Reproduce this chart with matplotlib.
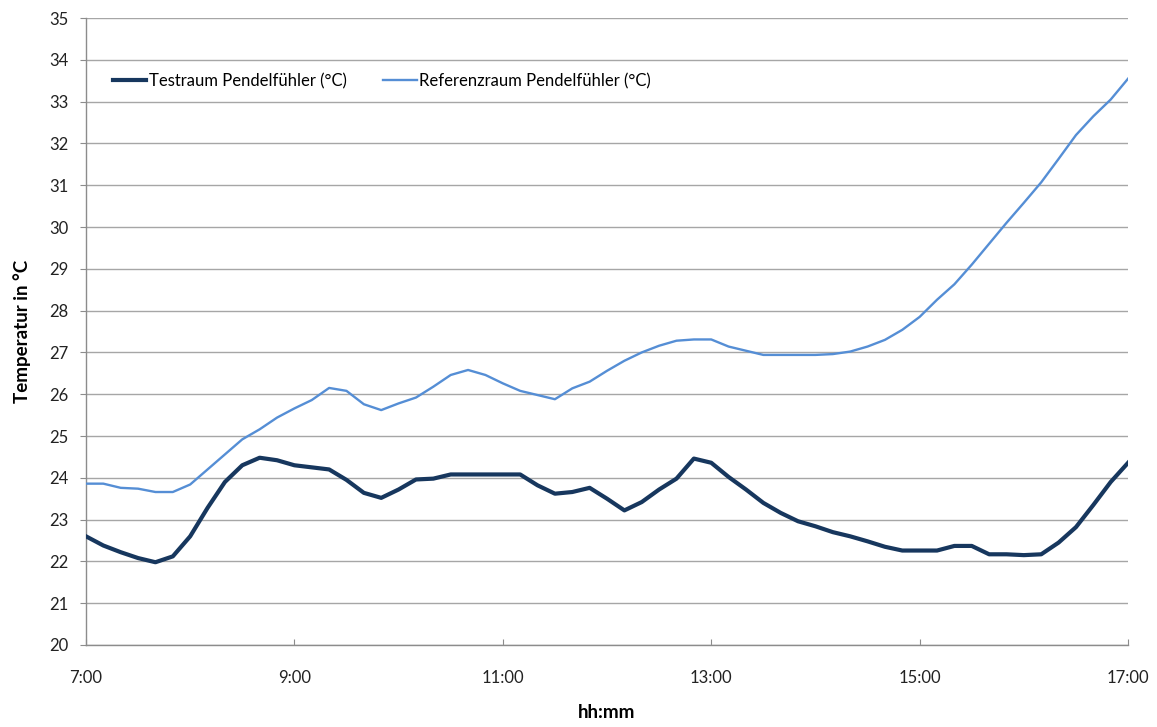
import numpy as np
import matplotlib
matplotlib.use('Agg')
import matplotlib.pyplot as plt
from matplotlib.ticker import FixedLocator, FuncFormatter

plt.rcParams['font.family'] = ['Lato', 'DejaVu Sans']

# sample grid: every 10 minutes from 7:00 to 17:00
minutes = np.arange(0, 601, 10)

# Testraum Pendelfühler (°C)
testraum = [22.60, 22.38, 22.22, 22.08, 21.98, 22.12, 22.60, 23.28, 23.90, 24.30,
            24.48, 24.42, 24.30, 24.25, 24.20, 23.95, 23.64, 23.52, 23.72, 23.96,
            23.98, 24.08, 24.08, 24.08, 24.08, 24.08, 23.82, 23.62, 23.66, 23.76,
            23.50, 23.22, 23.42, 23.72, 23.98, 24.46, 24.36, 24.02, 23.72, 23.40,
            23.16, 22.96, 22.84, 22.70, 22.60, 22.48, 22.35, 22.26, 22.26, 22.26,
            22.37, 22.37, 22.17, 22.17, 22.15, 22.17, 22.45, 22.82, 23.35, 23.90,
            24.36]

# Referenzraum Pendelfühler (°C)
referenz = [23.86, 23.86, 23.76, 23.74, 23.66, 23.66, 23.84, 24.20, 24.56, 24.92,
            25.16, 25.44, 25.66, 25.86, 26.15, 26.08, 25.76, 25.62, 25.78, 25.92,
            26.18, 26.46, 26.58, 26.46, 26.26, 26.08, 25.98, 25.88, 26.14, 26.30,
            26.56, 26.80, 27.00, 27.16, 27.28, 27.31, 27.31, 27.14, 27.04, 26.94,
            26.94, 26.94, 26.94, 26.96, 27.02, 27.14, 27.30, 27.54, 27.85, 28.26,
            28.63, 29.10, 29.60, 30.10, 30.58, 31.07, 31.63, 32.20, 32.65, 33.05,
            33.55]

hours = 7 + minutes / 60.0

fig = plt.figure(figsize=(11.57, 7.27), dpi=100)
ax = fig.add_axes([0.0743, 0.1128, 0.9007, 0.8624])

ax.plot(hours, testraum, color='#17375e', lw=3.0, label='Testraum Pendelfühler (°C)', zorder=3)
ax.plot(hours, referenz, color='#558ed5', lw=1.7, label='Referenzraum Pendelfühler (°C)', zorder=3)

ax.set_xlim(7, 17)
ax.set_ylim(20, 35)
ax.set_yticks(np.arange(20, 36, 1))
ax.xaxis.set_major_locator(FixedLocator([7, 9, 11, 13, 15, 17]))
ax.xaxis.set_major_formatter(FuncFormatter(lambda v, p: '%d:00' % int(round(v))))

ax.grid(axis='y', color='#a6a6a6', lw=1.0, zorder=0)
ax.set_axisbelow(True)
for side in ['top', 'right']:
    ax.spines[side].set_visible(False)
for side in ['left', 'bottom']:
    ax.spines[side].set_color('#8c8c8c')
    ax.spines[side].set_linewidth(1.0)

ax.tick_params(axis='y', direction='out', length=4.5, color='#8c8c8c', labelsize=12, pad=8, labelcolor='#222222')
ax.tick_params(axis='x', direction='in', length=4, color='#8c8c8c', labelsize=12, pad=18, labelcolor='#222222')

ax.set_ylabel('Temperatur in °C', fontsize=13.5, fontweight='bold', labelpad=13)
ax.set_xlabel('hh:mm', fontsize=13.5, fontweight='bold', labelpad=13)

ax.legend(loc='center left', bbox_to_anchor=(113 / 1157, 1 - 81 / 727), bbox_transform=fig.transFigure,
          ncol=2, frameon=False, fontsize=12, handlelength=2.0, handletextpad=0.15,
          columnspacing=2.2, borderpad=0, borderaxespad=0)

fig.savefig('out.png', dpi=100)
